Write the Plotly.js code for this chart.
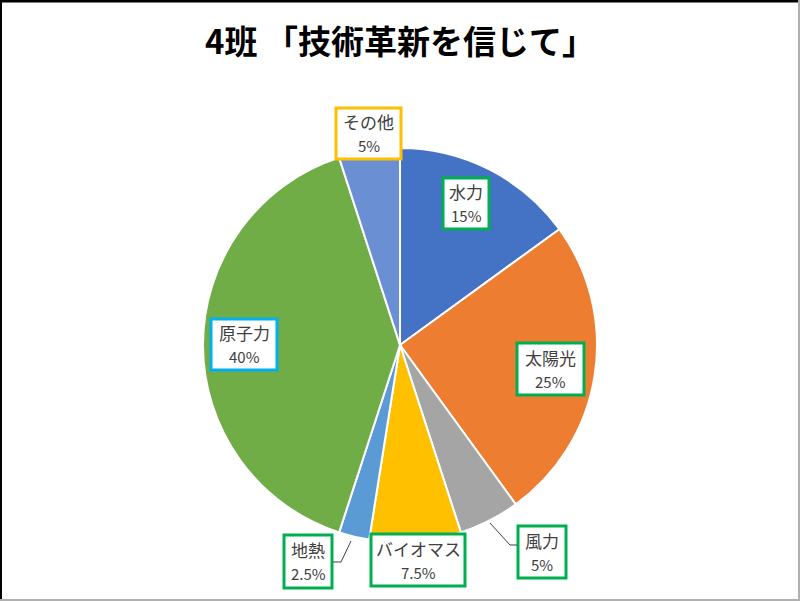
<!DOCTYPE html>
<html>
<head>
<meta charset="utf-8">
<script src="https://cdn.plot.ly/plotly-3.0.1.min.js"></script>
<style>
  body { margin: 0; background: #fff; }
  #energy_pie { width: 800px; height: 601px; }
</style>
</head>
<body>
<div id="energy_pie"></div>
<script>
// 発電の内訳 (%)
var source_list = ['水力', '太陽光', '風力', 'バイオマス', '地熱', '原子力', 'その他']
var share_list = [15, 25, 5, 7.5, 2.5, 40, 5]
var color_list = ['#4472C4', '#ED7D31', '#A5A5A5', '#FFC000', '#5B9BD5', '#70AD47', '#6B8FD3']

// ラベルの枠の色と位置 (px: 左, 上, 右, 下)
var box_color = ['#00B050', '#00B050', '#00B050', '#00B050', '#00B050', '#00B0F0', '#FFC000']
var box_rect = [[443, 178, 489, 229], [517, 343, 584, 395], [518, 526, 566, 578],
                [371, 534, 465, 586], [284, 535, 332, 588], [211, 319, 277, 370], [336, 108, 401, 159]]

var W = 800, H = 601

function px(x) { return x / W }
function py(y) { return 1 - y / H }

var annotations = [], shapes = []
for (i = 0; i < source_list.length; i++) {
    r = box_rect[i]
    cx = (r[0] + r[2]) / 2, cy = (r[1] + r[3]) / 2
    shapes.push({
        type: 'rect', xref: 'paper', yref: 'paper',
        x0: px(r[0]), x1: px(r[2]), y0: py(r[3]), y1: py(r[1]),
        fillcolor: '#ffffff',
        line: {color: box_color[i], width: 3},
        layer: 'above',
    })
    annotations.push({
        xref: 'paper', yref: 'paper', x: px(cx), y: py(cy - 12),
        xanchor: 'center', yanchor: 'middle', showarrow: false,
        text: source_list[i],
        font: {family: 'Noto Sans CJK JP', size: 17, color: '#404040'},
    })
    annotations.push({
        xref: 'paper', yref: 'paper', x: px(cx), y: py(cy + 12),
        xanchor: 'center', yanchor: 'middle', showarrow: false,
        text: share_list[i] + '%',
        font: {family: 'Noto Sans CJK JP', size: 15, color: '#404040'},
    })
}

function px_path(pts) {
    return pts.map(function (p, k) {
        return (k ? 'L' : 'M') + px(p[0]) + ',' + py(p[1])
    }).join(' ')
}

// 引き出し線
shapes.push({type: 'path', xref: 'paper', yref: 'paper', path: px_path([[490, 523], [510, 545], [517, 545]]), line: {color: '#404040', width: 1}})
shapes.push({type: 'path', xref: 'paper', yref: 'paper', path: px_path([[351, 541], [341, 562], [333, 562]]), line: {color: '#404040', width: 1}})
// 外枠
shapes.push({type: 'line', xref: 'paper', yref: 'paper', x0: 0, x1: 1, y0: 1, y1: 1, line: {color: '#000000', width: 5}})
shapes.push({type: 'line', xref: 'paper', yref: 'paper', x0: 0, x1: 0, y0: 0, y1: 1, line: {color: '#000000', width: 4}})
shapes.push({type: 'line', xref: 'paper', yref: 'paper', x0: 1, x1: 1, y0: 0, y1: 1, line: {color: '#b0b0b0', width: 4}})
shapes.push({type: 'line', xref: 'paper', yref: 'paper', x0: 0, x1: 1, y0: 0, y1: 0, line: {color: '#b0b0b0', width: 4}})

var data = [{
    type: 'pie',
    labels: source_list,
    values: share_list,
    sort: false,
    direction: 'clockwise',
    rotation: 0,
    textinfo: 'none',
    hoverinfo: 'none',
    marker: {
        colors: color_list,
        line: {color: '#ffffff', width: 2},
    },
    domain: {x: [0, 1], y: [(H - 542) / H, (H - 148) / H]},
}]

var layout = {
    width: W,
    height: H,
    margin: {t: 0, l: 0, r: 0, b: 0, pad: 0},
    paper_bgcolor: '#ffffff',
    showlegend: false,
    title: {
        text: '<b>4班 「技術革新を信じて」</b>',
        font: {family: 'Noto Sans CJK JP', size: 33, color: '#000000'},
        x: 0.5,
        xanchor: 'center',
        y: 1 - 42 / H,
        yanchor: 'middle',
    },
    annotations: annotations,
    shapes: shapes,
}

Plotly.newPlot('energy_pie', data, layout, {displayModeBar: false, staticPlot: true})
</script>
</body>
</html>
